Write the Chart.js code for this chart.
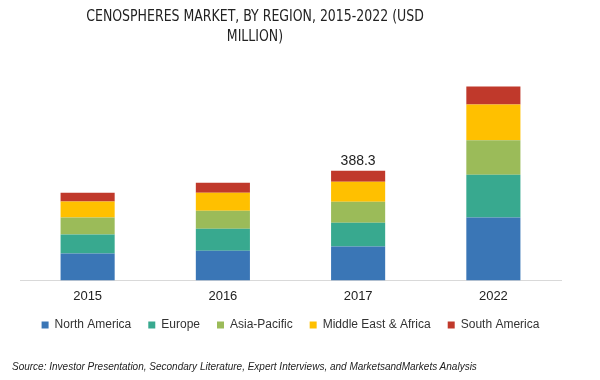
<!DOCTYPE html>
<html>
<head>
<meta charset="utf-8">
<script src="https://cdn.jsdelivr.net/npm/chart.js@4.4.0/dist/chart.umd.min.js"></script>
<style>
    html, body { margin: 0; padding: 0; background: #fff; }
    #wrap { position: relative; width: 600px; height: 380px; overflow: hidden; }
    #title {
        position: absolute; left: 0; top: 6px; width: 510px;
        text-align: center; font-family: 'DejaVu Sans Condensed', 'Liberation Sans Narrow', sans-serif;
        font-size: 16px; line-height: 20px; color: #222;
        transform: scaleX(0.87); transform-origin: 255px 0;
    }
    #source {
        position: absolute; left: 12px; top: 361px;
        font-family: 'Liberation Sans', Arial, sans-serif; font-style: italic;
        font-size: 10px; color: #222; white-space: nowrap;
    }
</style>
</head>
<body>
<div id="wrap">
    <canvas id="chart" width="600" height="380"></canvas>
    <div id="title">CENOSPHERES MARKET, BY REGION, 2015-2022 (USD<br>MILLION)</div>
    <div id="source">Source: Investor Presentation, Secondary Literature, Expert Interviews, and MarketsandMarkets Analysis</div>
</div>
<script>
// Valores (USD milhões)
const years = ['2015', '2016', '2017', '2022'];
const northAmerica = [95, 104.6, 119.9, 222.7];
const europe = [67.4, 78, 84, 151.4];
const asiaPacific = [60.3, 63.8, 74.5, 121.6];
const middleEastAfrica = [56.7, 63.8, 70.9, 126.6];
const southAmerica = [30.9, 35.5, 39, 63.8];
const totalLabels = ['', '', '388.3', ''];

const regionNames = ['North America', 'Europe', 'Asia-Pacific', 'Middle East & Africa', 'South America'];
const regionValues = [northAmerica, europe, asiaPacific, middleEastAfrica, southAmerica];
const regionColors = ['#3A76B6', '#38A98F', '#9BBB59', '#FFC000', '#C0392B'];

// rótulo do total acima da pilha
const totalLabelPlugin = {
    id: 'totalLabel',
    afterDatasetsDraw(chart) {
        const ctx = chart.ctx;
        const meta = chart.getDatasetMeta(chart.data.datasets.length - 1);
        ctx.save();
        ctx.font = '14px "Liberation Sans", Arial, sans-serif';
        ctx.fillStyle = '#222';
        ctx.textAlign = 'center';
        ctx.textBaseline = 'alphabetic';
        totalLabels.forEach(function(label, i) {
            if (!label) return;
            const bar = meta.data[i];
            ctx.fillText(label, bar.x, bar.y - 6);
        });
        ctx.restore();
    }
};

const ctx = document.getElementById('chart').getContext('2d');
const chart = new Chart(ctx, {
    type: 'bar',
    data: {
        labels: years,
        datasets: regionNames.map(function(name, i) {
            return {
                label: name,
                data: regionValues[i],
                backgroundColor: regionColors[i],
                borderWidth: 0,
                barPercentage: 0.4,
                categoryPercentage: 1
            };
        })
    },
    options: {
        responsive: false,
        animation: false,
        layout: {
            padding: { left: 20, right: 39, top: 60, bottom: 39 }
        },
        plugins: {
            legend: {
                position: 'bottom',
                labels: {
                    boxWidth: 7,
                    boxHeight: 7,
                    padding: 17,
                    color: '#333',
                    font: { family: '"Liberation Sans", Arial, sans-serif', size: 12 }
                }
            },
            tooltip: { enabled: false },
            title: { display: false }
        },
        scales: {
            x: {
                stacked: true,
                grid: { display: false, drawTicks: false, tickLength: 0 },
                border: { display: true, color: '#d9d9d9', width: 1 },
                ticks: {
                    color: '#222',
                    padding: 8,
                    font: { family: '"Liberation Sans", Arial, sans-serif', size: 13 }
                },
                // aproxima a legenda do eixo
                afterFit: function(scale) {
                    scale.height -= 10;
                }
            },
            y: {
                stacked: true,
                display: false,
                min: 0,
                max: 780
            }
        }
    },
    plugins: [totalLabelPlugin]
});
</script>
</body>
</html>
